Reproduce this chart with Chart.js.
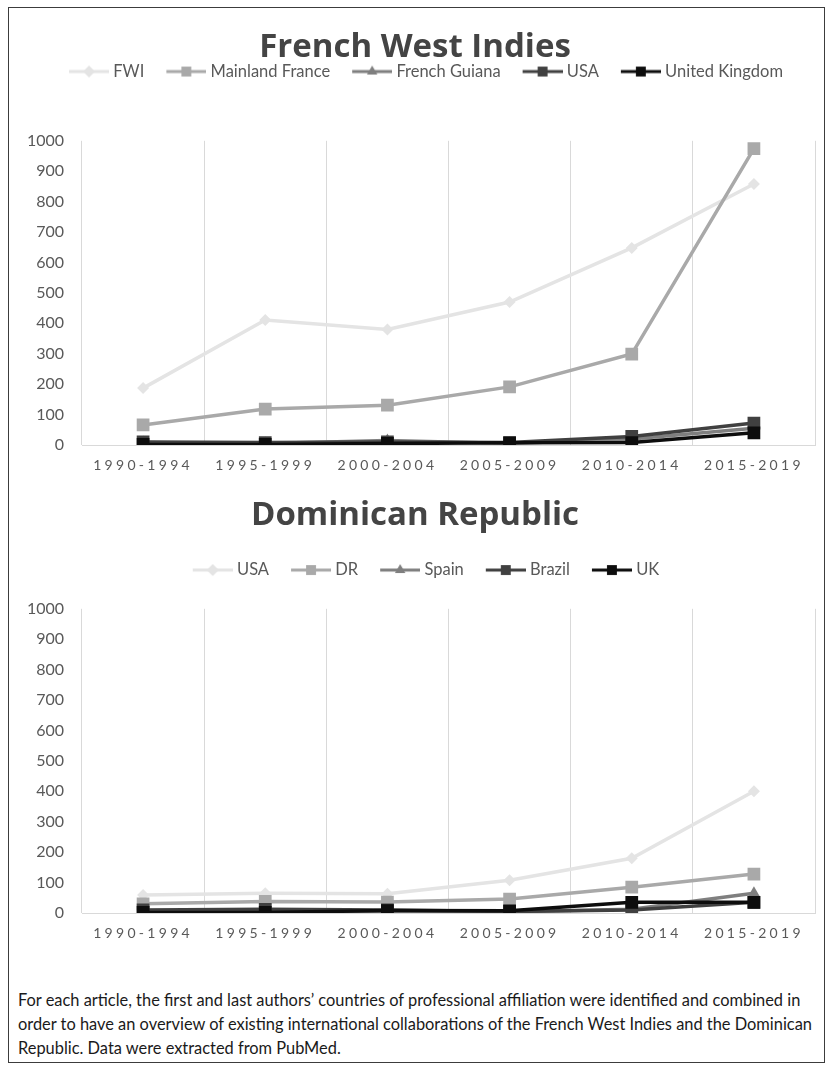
<!DOCTYPE html>
<html>
<head>
<meta charset="utf-8">
<script src="https://cdn.jsdelivr.net/npm/chart.js@4.4.1/dist/chart.umd.min.js"></script>
<style>
  html, body { margin: 0; padding: 0; background: #ffffff; }
  body { width: 825px; height: 1070px; position: relative; overflow: hidden; font-family: Lato, sans-serif; }
  #frame { position: absolute; left: 8px; top: 7px; width: 815px; height: 1054px; border: 1px solid #3c3c3c; }
  .chart { position: absolute; left: 10px; width: 814px; }
  #fwiBox { top: 9px; height: 480px; }
  #drBox { top: 489px; height: 468px; }
  #note { position: absolute; left: 18px; top: 988px; width: 805px; font-family: Lato, sans-serif; font-size: 16.4px; line-height: 24px; color: #1a1a1a; white-space: nowrap; }
</style>
</head>
<body>
<div id="frame"></div>
<div class="chart" id="fwiBox"><canvas id="fwiChart"></canvas></div>
<div class="chart" id="drBox"><canvas id="drChart"></canvas></div>
<div id="note">For each article, the first and last authors’ countries of professional affiliation were identified and combined in<br>order to have an overview of existing international collaborations of the French West Indies and the Dominican<br>Republic. Data were extracted from PubMed.</div>
<script>
// Publication periods shared by both panels
const periods = ['1990-1994', '1995-1999', '2000-2004', '2005-2009', '2010-2014', '2015-2019'];
const yTicks = [0, 100, 200, 300, 400, 500, 600, 700, 800, 900, 1000];

// French West Indies: collaborating countries
const fwiFwi = [187, 411, 380, 470, 648, 858];
const fwiMainlandFrance = [66, 118, 131, 191, 299, 974];
const fwiFrenchGuiana = [8, 5, 15, 5, 20, 55];
const fwiUsa = [10, 8, 10, 8, 28, 72];
const fwiUk = [2, 2, 5, 7, 8, 40];

// Dominican Republic: collaborating countries
const drUsa = [59, 65, 63, 108, 180, 400];
const drDr = [30, 38, 36, 46, 85, 128];
const drSpain = [4, 4, 5, 4, 12, 65];
const drBrazil = [10, 12, 10, 5, 10, 35];
const drUk = [2, 2, 8, 7, 35, 35];

const C_LIGHT = '#e4e4e4';
const C_MID = '#a9a9a9';
const C_GREY = '#7f7f7f';
const C_DARK = '#404040';
const C_BLACK = '#0d0d0d';

Chart.defaults.font.family = 'Lato, sans-serif';
Chart.defaults.color = '#595959';

function series(label, data, color, style, radius, order) {
  return {
    label, data,
    borderColor: color, backgroundColor: color,
    borderWidth: 3.5,
    pointStyle: style, pointRadius: radius, pointBorderWidth: 0,
    pointBackgroundColor: color,
    tension: 0, fill: false, order
  };
}

// Line-with-marker swatch used in the legend
function legendSwatch(color, style) {
  const c = document.createElement('canvas');
  c.width = 66; c.height = 18;
  const g = c.getContext('2d');
  g.strokeStyle = color; g.fillStyle = color; g.lineWidth = 3.2;
  g.beginPath(); g.moveTo(26, 9); g.lineTo(66, 9); g.stroke();
  Chart.helpers.drawPoint(g, { pointStyle: style, radius: style === 'rect' ? 7 : 6, rotation: 0, borderWidth: 0 }, 46, 9);
  return c;
}

// Extra room between the legend and the plot area
function legendGap(px) {
  return {
    id: 'legendGap',
    beforeInit(chart) {
      const fit = chart.legend.fit;
      chart.legend.fit = function () { fit.call(this); this.height += px; };
    }
  };
}

// Category labels are drawn letter-spaced
const spacedTicks = {
  id: 'spacedTicks',
  afterDatasetsDraw(chart) { chart.ctx.letterSpacing = '3.3px'; },
  afterDraw(chart) { chart.ctx.letterSpacing = '0px'; }
};

function makeChart(canvasId, title, datasets, titlePad, gap) {
  return new Chart(document.getElementById(canvasId), {
    type: 'line',
    data: { labels: periods, datasets },
    plugins: [legendGap(gap), spacedTicks],
    options: {
      responsive: true,
      maintainAspectRatio: false,
      animation: false,
      events: [],
      layout: { padding: { left: 0, right: 4, top: 0, bottom: 0 } },
      plugins: {
        tooltip: { enabled: false },
        title: {
          display: true, text: title, color: '#444444',
          font: { family: '"Open Sans", sans-serif', size: 33, weight: 'bold', lineHeight: 1.1 },
          padding: titlePad
        },
        legend: {
          display: true, position: 'top',
          labels: {
            usePointStyle: true, pointStyleWidth: 58, padding: 0,
            color: '#595959', font: { size: 16.5 },
            generateLabels(chart) {
              return chart.data.datasets.map((ds, i) => ({
                text: ds.label,
                pointStyle: legendSwatch(ds.borderColor, ds.pointStyle),
                fillStyle: ds.borderColor, strokeStyle: ds.borderColor,
                lineWidth: 0, fontColor: '#595959', datasetIndex: i, hidden: false
              }));
            }
          }
        }
      },
      scales: {
        x: {
          type: 'category', offset: true,
          grid: { display: true, offset: true, color: '#d9d9d9', lineWidth: 1, drawTicks: false },
          border: { display: true, color: '#d9d9d9', width: 1 },
          ticks: { padding: 12, font: { size: 14 }, color: '#595959', z: 1, maxRotation: 0, autoSkip: false },
          afterFit(s) { s.height = 44; }
        },
        y: {
          min: 0, max: 1000,
          afterBuildTicks(s) { s.ticks = yTicks.map(v => ({ value: v })); },
          grid: { display: false, drawTicks: false },
          border: { display: false },
          ticks: { padding: 18, font: { size: 16 }, color: '#595959', callback: v => String(v) },
          afterFit(s) { s.width = 72; }
        }
      }
    }
  });
}

makeChart('fwiChart', 'French West Indies', [
  series('FWI', fwiFwi, C_LIGHT, 'rectRot', 6, 5),
  series('Mainland France', fwiMainlandFrance, C_MID, 'rect', 9, 4),
  series('French Guiana', fwiFrenchGuiana, C_GREY, 'triangle', 7, 3),
  series('USA', fwiUsa, C_DARK, 'rect', 9, 2),
  series('United Kingdom', fwiUk, C_BLACK, 'rect', 9, 1)
], { top: 20, bottom: -2 }, 51);

makeChart('drChart', 'Dominican Republic', [
  series('USA', drUsa, C_LIGHT, 'rectRot', 6, 5),
  series('DR', drDr, C_MID, 'rect', 9, 4),
  series('Spain', drSpain, C_GREY, 'triangle', 7, 3),
  series('Brazil', drBrazil, C_DARK, 'rect', 9, 2),
  series('UK', drUk, C_BLACK, 'rect', 9, 1)
], { top: 8, bottom: 28.5 }, 20.5);
</script>
</body>
</html>
